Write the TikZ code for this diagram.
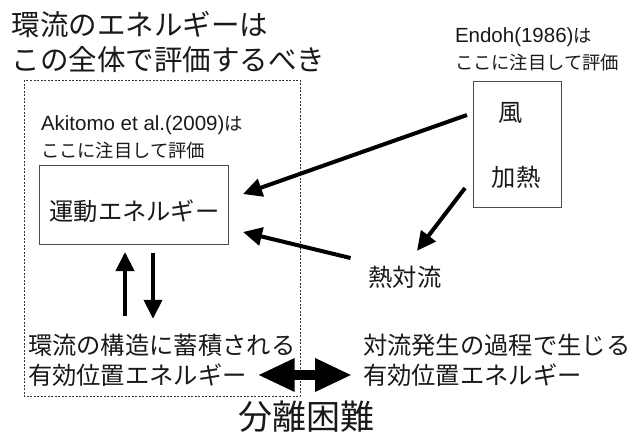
\documentclass[tikz,border=0pt]{standalone}
\usepackage{fontspec}
\setmainfont{Noto Sans CJK JP}
\newfontfamily\latinf{Liberation Sans}
\usetikzlibrary{arrows.meta,calc}
\begin{document}
\begin{tikzpicture}[x=1pt,y=-1pt,
  every node/.style={inner sep=0pt, outer sep=0pt, text=black!90},
  arr/.style={line width=4pt, -{Triangle[length=19pt,width=18pt]}},
  framebox/.style={draw=black!70, line width=1pt},
  fbig/.style={font=\fontsize{28.5}{30}\selectfont},
  fmid/.style={font=\fontsize{24.3}{26}\selectfont},
  fsmall/.style={font=\fontsize{18.3}{20}\selectfont},
  flat/.style={font=\latinf\fontsize{20.5}{21}\selectfont},
  fhuge/.style={font=\fontsize{34}{36}\selectfont}]
\useasboundingbox (0,0) rectangle (640,434);
\fill[white] (0,0) rectangle (640,434);

% title
\node[fbig, anchor=west] (t1) at (12,24) {環流のエネルギーは};
\node[fbig, anchor=west] (t2) at (12,60) {この全体で評価するべき};

% dashed frame
\draw[black!80, line width=0.8pt, dash pattern=on 2pt off 1.5pt] (24,80) rectangle (300,396);

% Akitomo note
\node[fsmall, anchor=west] (ak1) at (41,125) {{\latinf\fontsize{20.5}{21}\selectfont Akitomo et al.(2009)}は};
\node[fsmall, anchor=west] (ak2) at (41,151) {ここに注目して評価};

% kinetic energy box
\node[framebox, minimum width=189pt, minimum height=79pt] (ke) at (133.5,204.5) {};
\node[fmid] (ket) at (134.5,211) {運動エネルギー};

% Endoh note
\node[fsmall, anchor=west] (en1) at (455,37) {{\latinf\fontsize{20.5}{21}\selectfont Endoh(1986)}は};
\node[fsmall, anchor=west] (en2) at (455,63) {ここに注目して評価};

% wind / heating box
\node[framebox, minimum width=88pt, minimum height=126pt] (wb) at (517,144) {};
\node[fmid] (kaze) at (511,113) {風};
\node[fmid] (kanetsu) at (516,177) {加熱};

% convection
\node[fmid] (nc) at (405,277) {熱対流};

% bottom texts
\node[fmid, anchor=west] (ls1) at (28,345) {環流の構造に蓄積される};
\node[fmid, anchor=west] (ls2) at (28,375) {有効位置エネルギー};
\node[fmid, anchor=west] (rs1) at (363,345) {対流発生の過程で生じる};
\node[fmid, anchor=west] (rs2) at (363,375) {有効位置エネルギー};

\node[fhuge] (sep) at (306,417) {分離困難};

% arrows
\draw[arr] ($(wb.north west)+(-6,34)$) -- ($(ke.north east)+(15,29)$);
\draw[arr] ($(nc.west)+(-18,-19)$) -- ($(ke.north east)+(15,67)$);
\draw[arr] ($(wb.north west)+(-8,107)$) -- ($(nc.north)+(12,-15)$);
\draw[arr] ($(ls1.north west)+(97,-18)$) -- ($(ke.south west)+(86,8)$);
\draw[arr] ($(ke.south west)+(114,9)$) -- ($(ls1.north west)+(125,-15)$);

% double arrow
\draw[line width=10pt, {Triangle[length=37pt,width=31pt]}-{Triangle[length=37pt,width=31pt]}]
  ($(ls2.east)+(11,0)$) -- ($(rs2.west)+(-11,0)$);
\end{tikzpicture}
\end{document}
